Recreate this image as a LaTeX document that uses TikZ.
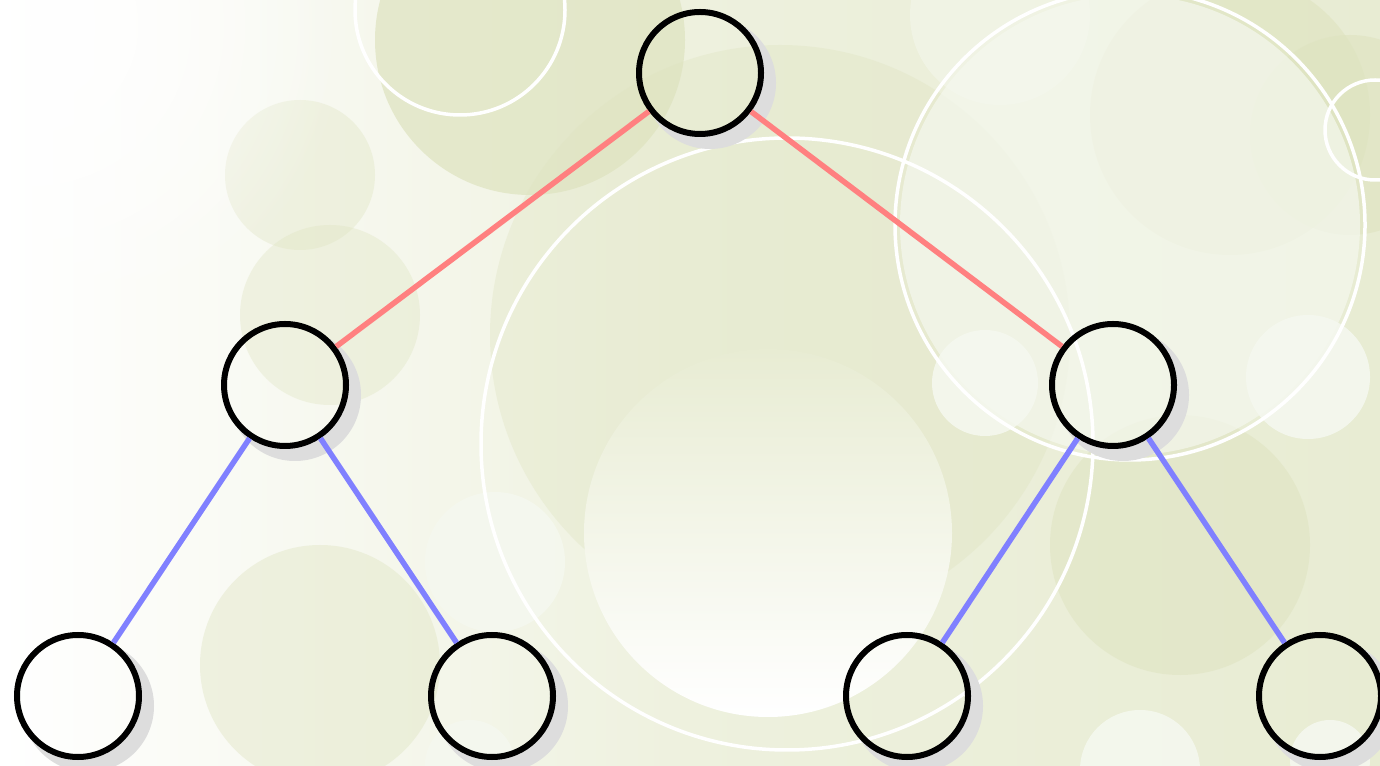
\documentclass[tikz,border=0pt]{standalone}
\usetikzlibrary{positioning, fadings}
\definecolor{paper}{HTML}{E8ECD3}
\definecolor{olive}{HTML}{DEE3BF}
\definecolor{mist}{HTML}{F5F8EF}
\definecolor{upperline}{HTML}{FF8080}
\definecolor{lowerline}{HTML}{8080FF}
\definecolor{shadowgrey}{HTML}{DDDDDD}
\tikzfading[name=softedge, inner color=transparent!0, outer color=transparent!100]

\tikzset{
  vertex/.style={circle, draw=black, line width=0.06cm, minimum size=1.22cm, inner sep=0pt},
  upper/.style={upperline, line width=0.055cm},
  lower/.style={lowerline, line width=0.055cm},
  ring/.style={white, line width=0.035cm},
}

\begin{document}
\begin{tikzpicture}
  \useasboundingbox (0,0) rectangle (13.8,7.65);

  % ── Background wash (1 px = 0.01 cm) ────────────────────────────────────
  \begin{scope}
    \clip (0,0) rectangle (13.8,7.65);
    \shade[left color=white, right color=paper, middle color=paper!75] (0,0) rectangle (13.8,7.65);
    % soft blobs
    \fill[olive, opacity=0.7] (5.3,7.25) circle (1.55);
    \fill[olive, opacity=0.35] (7.8,4.3) circle (2.9);
    \fill[olive, opacity=0.6] (12.3,6.5) circle (1.4);
    \fill[olive, opacity=0.6] (13.5,6.3) circle (1.0);
    \fill[olive, opacity=0.35] (3.0,5.9) circle (0.75);
    \fill[olive, opacity=0.35] (3.3,4.5) circle (0.9);
    \fill[olive, opacity=0.4] (3.2,1.0) circle (1.2);
    \fill[olive, opacity=0.5] (11.8,2.2) circle (1.3);
    \fill[mist, opacity=0.7] (11.3,5.4) circle (2.3);
    \fill[mist, opacity=0.5] (10.0,7.5) circle (0.9);
    \fill[white, path fading=softedge] (0.3,7.4) circle (3.2);
    % white discs
    \shade[top color=paper, bottom color=white] (7.68,2.32) circle (1.84);
    \fill[mist, opacity=0.9] (9.85,3.82) circle (0.53);
    \fill[mist, opacity=0.9] (13.08,3.88) circle (0.62);
    \fill[mist, opacity=0.9] (4.95,2.03) circle (0.70);
    \fill[mist, opacity=0.9] (4.70,0.0) circle (0.45);
    \fill[mist, opacity=0.9] (11.40,-0.05) circle (0.60);
    \fill[mist, opacity=0.9] (13.30,0.05) circle (0.40);
    % white rings
    \draw[ring] (7.87,3.21) circle (3.06);
    \draw[ring] (11.30,5.40) circle (2.35);
    \draw[ring] (4.60,7.55) circle (1.05);
    \draw[ring] (13.75,6.35) circle (0.50);
  \end{scope}

  % ── Node shadows ────────────────────────────────────────────────────────
  \foreach \x/\y in {7.00/6.92, 2.85/3.80, 11.13/3.80,
                     0.78/0.69, 4.92/0.69, 9.07/0.69, 13.20/0.69}{
    \begin{scope}[even odd rule]
      \clip (-1,-1) rectangle (15,9) (\x,\y) circle (0.62);
      \fill[shadowgrey] (\x+0.1,\y-0.1) circle (0.66);
    \end{scope}
  }

  % ── Tree ────────────────────────────────────────────────────────────────
  \node[vertex] (r)  at (7.00,6.92) {};
  \node[vertex] (a)  at (2.85,3.80) {};
  \node[vertex] (b)  at (11.13,3.80) {};
  \node[vertex] (a1) at (0.78,0.69) {};
  \node[vertex] (a2) at (4.92,0.69) {};
  \node[vertex] (b1) at (9.07,0.69) {};
  \node[vertex] (b2) at (13.20,0.69) {};

  \draw[upper] (r) -- (a);
  \draw[upper] (r) -- (b);
  \draw[lower] (a) -- (a1);
  \draw[lower] (a) -- (a2);
  \draw[lower] (b) -- (b1);
  \draw[lower] (b) -- (b2);
\end{tikzpicture}
\end{document}
